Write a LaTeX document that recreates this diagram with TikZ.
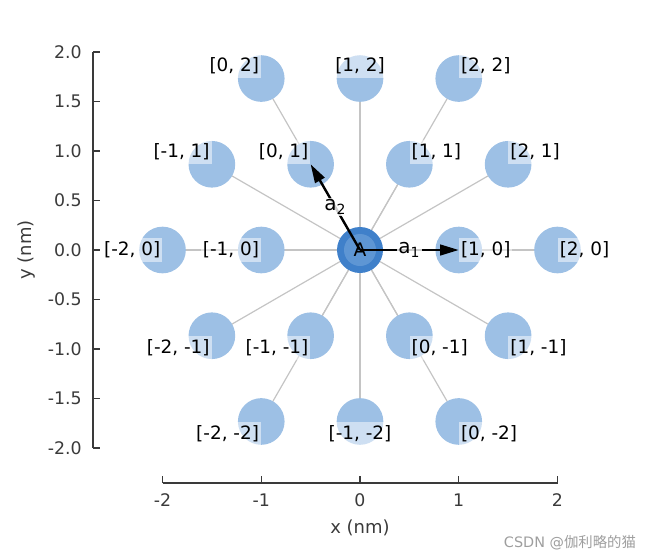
\documentclass[tikz,border=0pt]{standalone}
\usepackage{fontspec}
\setmainfont{DejaVu Sans}
\newfontfamily\cjkfont{Noto Sans CJK SC}
\usetikzlibrary{arrows.meta}
\definecolor{siteblue}{HTML}{9DC0E5}
\definecolor{Aouter}{HTML}{3F80CA}
\definecolor{Ainner}{HTML}{5E96D4}
\definecolor{bondgray}{HTML}{C4C4C4}
\definecolor{axisgray}{HTML}{3A3A3A}
\tikzset{
  site/.style={circle, fill=siteblue, draw=none, minimum size=35pt, inner sep=0pt},
  bond/.style={draw=bondgray, line width=0.9pt},
  lbl/.style={fill=white, fill opacity=0.5, text opacity=1, inner xsep=1.5pt, inner ysep=3pt, font=\fontsize{13.8}{16}\selectfont},
  vec/.style={black, line width=1.8pt, -{Triangle[length=14pt,width=8pt]}},
  veclbl/.style={fill=white, fill opacity=0.8, text opacity=1, inner sep=1pt, font=\fontsize{15}{17}\selectfont},
  axisline/.style={draw=axisgray, line width=1.1pt},
  ticklbl/.style={font=\fontsize{13}{15}\selectfont, text=axisgray, inner sep=0pt},
  axlbl/.style={font=\fontsize{13.5}{15}\selectfont, text=axisgray, inner sep=0pt},
}
\begin{document}
\begin{tikzpicture}[x=0.75pt,y=-0.75pt]
\useasboundingbox (0,0) rectangle (650,558);
% axes
\coordinate (yaxT) at (93,52);
\coordinate (yaxB) at (93,448);
\draw[axisline] (yaxT) -- (yaxB);
\foreach \v/\t in {2/2.0,1.5/1.5,1/1.0,0.5/0.5,0/0.0,-0.5/-0.5,-1/-1.0,-1.5/-1.5,-2/-2.0}{
  \draw[axisline] (93,{250-99*\v}) -- (100,{250-99*\v});
  \node[ticklbl, anchor=east] at (82,{250-99*\v}) {\t};
}
\coordinate (xaxL) at (163,483);
\coordinate (xaxR) at (558,483);
\draw[axisline] (xaxL) -- (xaxR);
\foreach \v in {-2,-1,0,1,2}{
  \draw[axisline] ({360+98.75*\v},483) -- ({360+98.75*\v},476);
  \node[ticklbl, anchor=center] at ({360+98.75*\v},500) {\v};
}
\node[axlbl, rotate=90] (ylab) at (27,250) {y (nm)};
\node[axlbl] (xlab) at (360,528) {x (nm)};
\node[font=\fontsize{10.8}{12}\selectfont, text=black!38, inner sep=0pt] (wm) at (570,543) {CSDN @\cjkfont 伽利略的猫};
% lattice
\begin{scope}[shift={(360,250)}, x=74.06pt, y=74.25pt]
\coordinate (A) at (0,0);
\foreach \n/\px/\py in {p02/-1/1.732, p12/0/1.732, p22/1/1.732,
  pm11/-1.5/0.866, p01/-0.5/0.866, p11/0.5/0.866, p21/1.5/0.866,
  pm20/-2/0, pm10/-1/0, p10/1/0, p20/2/0,
  pm2m1/-1.5/-0.866, pm1m1/-0.5/-0.866, p0m1/0.5/-0.866, p1m1/1.5/-0.866,
  pm2m2/-1/-1.732, pm1m2/0/-1.732, p0m2/1/-1.732}{
  \coordinate (\n) at (\px,\py);
}
\foreach \n in {p02,p12,p22,pm11,p01,p11,p21,pm20,pm10,p10,p20,pm2m1,pm1m1,p0m1,p1m1,pm2m2,pm1m2,p0m2}{
  \draw[bond] (A) -- (\n);
}
\foreach \n in {p02,p12,p22,pm11,p01,p11,p21,pm20,pm10,p10,p20,pm2m1,pm1m1,p0m1,p1m1,pm2m2,pm1m2,p0m2}{
  \node[site] (s\n) at (\n) {};
}
\node[circle, fill=Aouter, minimum size=34.5pt, inner sep=0pt] (Aout) at (A) {};
\node[circle, fill=Ainner, minimum size=24pt, inner sep=0pt] (Ain) at (A) {};
% labels
\foreach \n/\t/\a in {p02/{[0, 2]}/south east, p12/{[1, 2]}/south, p22/{[2, 2]}/south west,
  pm11/{[-1, 1]}/south east, p01/{[0, 1]}/south east, p11/{[1, 1]}/south west, p21/{[2, 1]}/south west,
  pm20/{[-2, 0]}/east, pm10/{[-1, 0]}/east, p10/{[1, 0]}/west, p20/{[2, 0]}/west,
  pm2m1/{[-2, -1]}/north east, pm1m1/{[-1, -1]}/north east, p0m1/{[0, -1]}/north west, p1m1/{[1, -1]}/north west,
  pm2m2/{[-2, -2]}/north east, pm1m2/{[-1, -2]}/north, p0m2/{[0, -2]}/north west}{
  \node[lbl, anchor=\a] (l\n) at (\n) {\t};
}
% vectors
\draw[vec] (A) -- (p10);
\draw[vec] (A) -- (p01);
\node[veclbl] (a1) at (0.5,0) {a\textsubscript{1}};
\node[veclbl] (a2) at (-0.25,0.433) {a\textsubscript{2}};
\node[font=\fontsize{14}{16}\selectfont, inner sep=0pt] (Alab) at (A) {A};
\end{scope}
\end{tikzpicture}
\end{document}
